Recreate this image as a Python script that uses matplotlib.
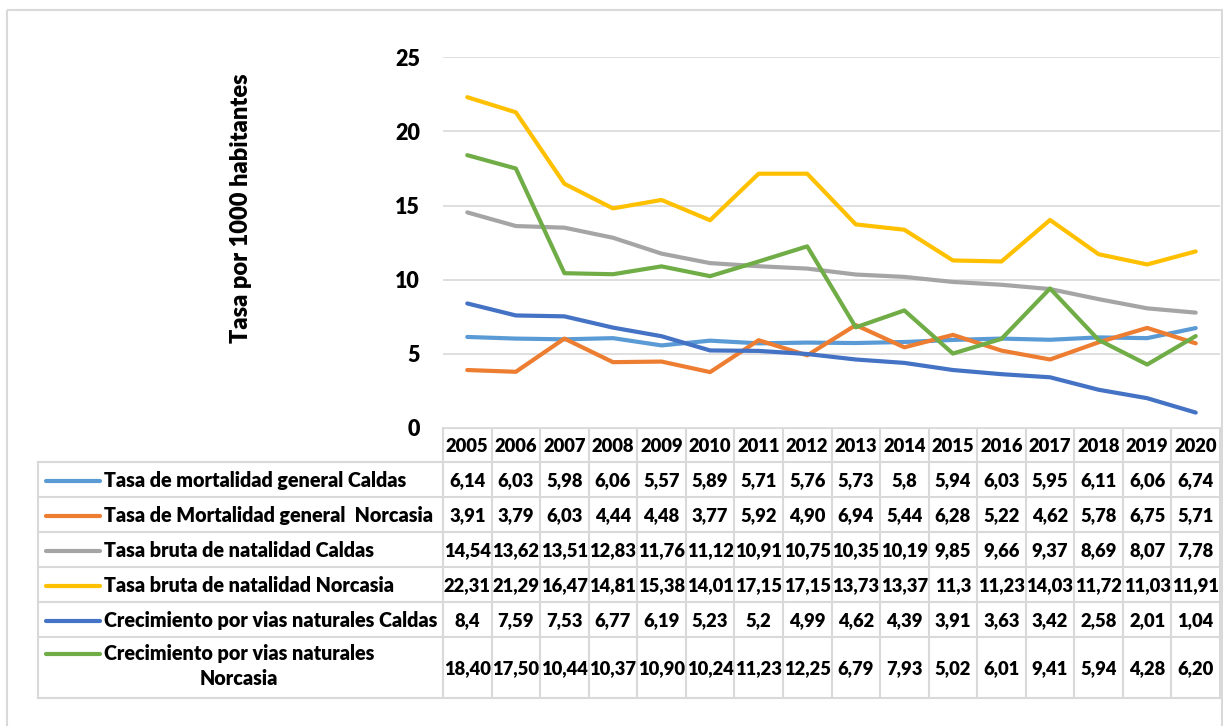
import matplotlib
matplotlib.use("Agg")
from matplotlib import pyplot as plt
from matplotlib.patches import Rectangle
from matplotlib.lines import Line2D

plt.rcParams['font.family'] = ['Lato', 'DejaVu Sans']
WEIGHT = 'heavy'

years = ['2005', '2006', '2007', '2008', '2009', '2010', '2011', '2012',
         '2013', '2014', '2015', '2016', '2017', '2018', '2019', '2020']

# values as printed in the data table (Spanish decimal comma)
mort_caldas = ['6,14', '6,03', '5,98', '6,06', '5,57', '5,89', '5,71', '5,76',
               '5,73', '5,8', '5,94', '6,03', '5,95', '6,11', '6,06', '6,74']
mort_norcasia = ['3,91', '3,79', '6,03', '4,44', '4,48', '3,77', '5,92', '4,90',
                 '6,94', '5,44', '6,28', '5,22', '4,62', '5,78', '6,75', '5,71']
nat_caldas = ['14,54', '13,62', '13,51', '12,83', '11,76', '11,12', '10,91', '10,75',
              '10,35', '10,19', '9,85', '9,66', '9,37', '8,69', '8,07', '7,78']
nat_norcasia = ['22,31', '21,29', '16,47', '14,81', '15,38', '14,01', '17,15', '17,15',
                '13,73', '13,37', '11,3', '11,23', '14,03', '11,72', '11,03', '11,91']
crec_caldas = ['8,4', '7,59', '7,53', '6,77', '6,19', '5,23', '5,2', '4,99',
               '4,62', '4,39', '3,91', '3,63', '3,42', '2,58', '2,01', '1,04']
crec_norcasia = ['18,40', '17,50', '10,44', '10,37', '10,90', '10,24', '11,23', '12,25',
                 '6,79', '7,93', '5,02', '6,01', '9,41', '5,94', '4,28', '6,20']

series_names = ['Tasa de mortalidad general Caldas',
                'Tasa de Mortalidad general  Norcasia',
                'Tasa bruta de natalidad Caldas',
                'Tasa bruta de natalidad Norcasia',
                'Crecimiento por vias naturales Caldas',
                'Crecimiento por vias naturales\nNorcasia']
series_vals = [mort_caldas, mort_norcasia, nat_caldas, nat_norcasia, crec_caldas, crec_norcasia]
colors = ['#5B9BD5', '#ED7D31', '#A5A5A5', '#FFC000', '#4472C4', '#70AD47']

W, H = 1223, 726
grid_col = '#D9D9D9'

fig = plt.figure(figsize=(W / 100, H / 100), dpi=100)

# plot area in pixels
pl, pr, pt, pb = 443, 1220, 57.3, 428
ax = fig.add_axes([pl / W, 1 - pb / H, (pr - pl) / W, (pb - pt) / H])
x = list(range(len(years)))
for vals, c in zip(series_vals, colors):
    y = [float(v.replace(',', '.')) for v in vals]
    ax.plot(x, y, color=c, lw=3.0, solid_capstyle='round', solid_joinstyle='round', zorder=3)
ax.set_xlim(-0.5, len(years) - 0.5)
ax.set_ylim(0, 25)
ax.set_yticks([0, 5, 10, 15, 20, 25])
ax.set_xticks([])
ax.tick_params(axis='y', length=0, pad=16.5, labelsize=15.5)
for lab in ax.get_yticklabels():
    lab.set_fontweight(WEIGHT)
ax.grid(axis='y', color=grid_col, lw=1.2)
ax.set_axisbelow(True)
for s in ax.spines.values():
    s.set_visible(False)
ax.set_ylabel('Tasa por 1000 habitantes', fontsize=17, fontweight=WEIGHT, labelpad=0)
ax.yaxis.set_label_coords((252 - pl) / (pr - pl), (pb - 208) / (pb - pt))

# overlay in pixel coordinates for the data table and chart border
ov = fig.add_axes([0, 0, 1, 1], zorder=-1)
ov.set_xlim(0, W)
ov.set_ylim(H, 0)
ov.axis('off')

ov.add_patch(Rectangle((7, 10), W - 8.5, H + 10, fill=False, ec=grid_col, lw=1.5))

cw = (pr - pl) / len(years)
rows = [428, 462, 497, 532, 567, 602, 637, 698]
tl = 38
lw_t = 1.5
# horizontal lines
ov.plot([pl, pr], [rows[0], rows[0]], color=grid_col, lw=lw_t)
for r in rows[1:]:
    ov.plot([tl, pr], [r, r], color=grid_col, lw=lw_t)
# vertical lines
ov.plot([tl, tl], [rows[1], rows[-1]], color=grid_col, lw=lw_t)
for i in range(len(years) + 1):
    xx = pl + i * cw
    ov.plot([xx, xx], [rows[0], rows[-1]], color=grid_col, lw=lw_t)

fs = 13.2
fs_lab = 14.2
for i, yr in enumerate(years):
    ov.text(pl + (i + 0.5) * cw, (rows[0] + rows[1]) / 2 + 1, yr, ha='center', va='center',
            fontsize=fs, fontweight=WEIGHT)

for k, (name, vals, c) in enumerate(zip(series_names, series_vals, colors)):
    yc = (rows[k + 1] + rows[k + 2]) / 2 + 1
    for i, v in enumerate(vals):
        ov.text(pl + (i + 0.5) * cw, yc, v, ha='center', va='center', fontsize=fs, fontweight=WEIGHT)
    if '\n' in name:
        ly = rows[k + 1] + 17
        ov.text(104, ly - 10, name, ha='left', va='top', fontsize=fs_lab, fontweight=WEIGHT,
                multialignment='center', linespacing=1.35)
    else:
        ly = yc
        ov.text(104, yc, name, ha='left', va='center', fontsize=fs_lab, fontweight=WEIGHT)
    ov.add_line(Line2D([46, 100], [ly, ly], color=c, lw=3.0, solid_capstyle='round'))

fig.savefig('out.png', dpi=100)
